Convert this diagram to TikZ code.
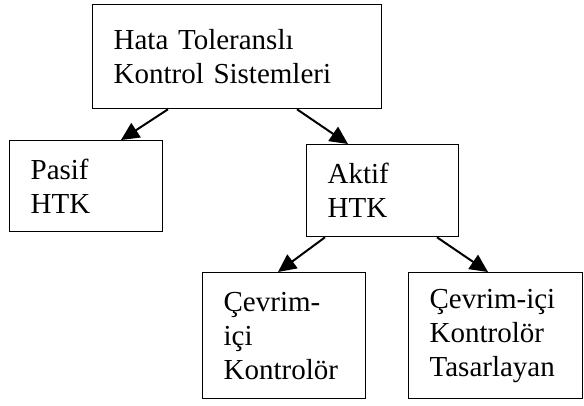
\documentclass[tikz,border=0pt]{standalone}
\usepackage{fontspec}
\setmainfont{Liberation Serif}
\usetikzlibrary{arrows.meta,calc}
\begin{document}
\begin{tikzpicture}[x=1pt,y=-1pt,
  box/.style={draw, line width=1.3pt, anchor=north west, align=left, inner xsep=21pt, inner ysep=0pt,
    font=\fontsize{29}{34}\selectfont},
  arr/.style={line width=2pt, -{Triangle[length=18pt,width=17pt]}}]
\useasboundingbox (0,0) rectangle (584,406);
\node[box, text width=247pt, minimum height=104pt] (top) at (92,4) {Hata Toleranslı\\Kontrol Sistemleri};
\node[box, text width=111pt, minimum height=91pt] (pasif) at (9,140) {Pasif\\HTK};
\node[box, text width=110pt, minimum height=92pt] (aktif) at (306,144) {Aktif\\HTK};
\node[box, text width=121pt, minimum height=126pt] (bl) at (202,272) {Çevrim-\\içi\\Kontrolör};
\node[box, text width=132pt, minimum height=126pt] (br) at (408,272) {Çevrim-içi\\Kontrolör\\Tasarlayan};
\draw[arr] ([xshift=76pt]top.south west) -- ([xshift=112pt]pasif.north west);
\draw[arr] ([xshift=205pt]top.south west) -- ([xshift=42pt]aktif.north west);
\draw[arr] ([xshift=19pt]aktif.south west) -- ([xshift=76pt]bl.north west);
\draw[arr] ([xshift=131pt]aktif.south west) -- ([xshift=80pt]br.north west);
\end{tikzpicture}
\end{document}
